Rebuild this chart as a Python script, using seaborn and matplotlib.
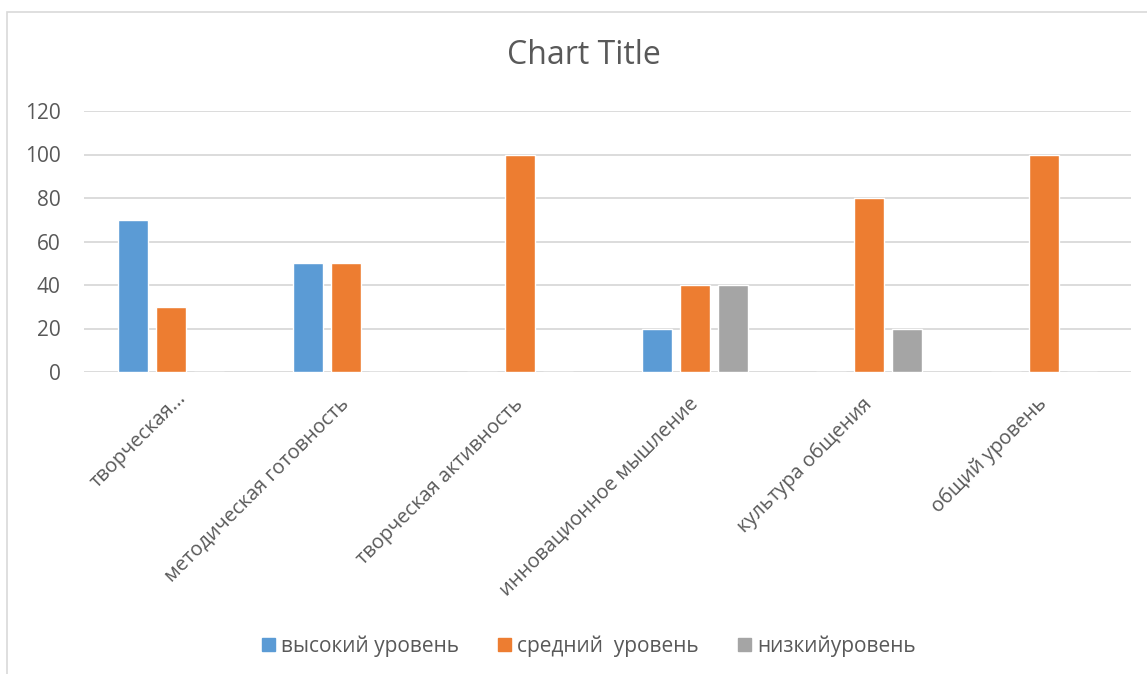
import pandas as pd
import matplotlib
matplotlib.use('Agg')
import matplotlib.pyplot as plt
import matplotlib.patches as mpatches
import matplotlib.transforms as mtransforms
import seaborn as sns

# chart data
categories = ['творческая...', 'методическая готовность', 'творческая активность',
              'инновационное мышление', 'культура общения', 'общий уровень']
series_names = ['высокий уровень', 'средний  уровень', 'низкийуровень']
high = [70, 50, 0, 20, 0, 0]
middle = [30, 50, 100, 40, 80, 100]
low = [0, 0, 0, 40, 20, 0]
colors = ['#5B9BD5', '#ED7D31', '#A5A5A5']

rows = []
for name, vals in zip(series_names, [high, middle, low]):
    for cat, v in zip(categories, vals):
        rows.append({'category': cat, 'series': name, 'value': v})
df = pd.DataFrame(rows)

sns.set_style('white')
plt.rcParams['font.family'] = ['Open Sans', 'DejaVu Sans']
text_color = '#595959'
grid_color = '#D9D9D9'

fig = plt.figure(figsize=(11.47, 6.74), dpi=100)
ax = fig.add_axes([84 / 1147, 1 - 372 / 674, (1131 - 84) / 1147, (372 - 111) / 674])

sns.barplot(data=df, x='category', y='value', hue='series', order=categories,
            hue_order=series_names, palette=colors, width=0.653, gap=0.21,
            ax=ax, legend=False, saturation=1)

ax.set_ylim(0, 120)
ax.set_xlim(-0.5, len(categories) - 0.5)
ax.set_yticks(range(0, 121, 20))
ax.yaxis.grid(True, color=grid_color, linewidth=1.3)
ax.set_axisbelow(True)
for s in ax.spines.values():
    s.set_visible(False)
ax.set_xlabel('')
ax.set_ylabel('')
ax.tick_params(axis='y', length=0, labelsize=15, labelcolor=text_color, pad=17)
ax.set_xticks(range(len(categories)))
ax.set_xticklabels(categories, rotation=45, ha='right', va='center', rotation_mode='anchor')
ax.tick_params(axis='x', length=0, labelsize=14.4, labelcolor=text_color, pad=21)

# the truncated first label sits a bit further right in the original
first = ax.get_xticklabels()[0]
first.set_transform(first.get_transform() +
                    mtransforms.ScaledTranslation(12 / 100, 6 / 100, fig.dpi_scale_trans))

fig.text(584 / 1147, 1 - 56 / 674, 'Chart Title', ha='center', va='center',
         fontsize=23, color=text_color)

handles = [mpatches.Patch(color=c, label=n) for c, n in zip(colors, series_names)]
fig.legend(handles=handles, loc='center', bbox_to_anchor=(589 / 1147, 1 - 646 / 674),
           ncol=3, frameon=False, fontsize=15, handlelength=0.6, handleheight=0.6,
           handletextpad=0.3, columnspacing=1.9, labelcolor=text_color)

# chart-area border like the spreadsheet frame
fig.patches.append(mpatches.Rectangle((7 / 1147, -0.1), 1.2, 1 - 12 / 674 + 0.1,
                                      transform=fig.transFigure, fill=False,
                                      edgecolor=grid_color, linewidth=1.2))

fig.savefig('out.png', dpi=100)
